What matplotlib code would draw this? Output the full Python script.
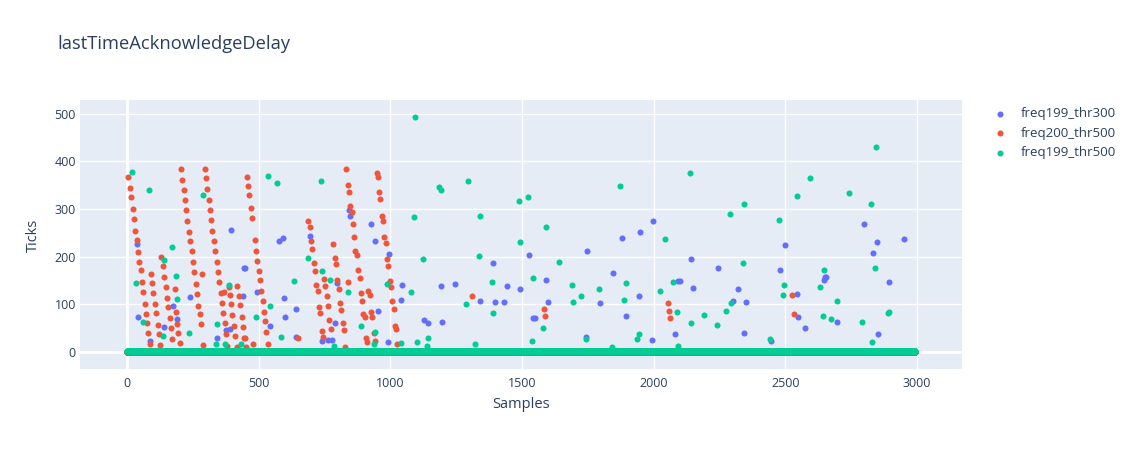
import numpy as np
import matplotlib
matplotlib.use("Agg")
import matplotlib.pyplot as plt

N_SAMPLES = 2995
series_names = ["freq199_thr300", "freq200_thr500", "freq199_thr500"]
colors = ["#636efa", "#EF553B", "#00cc96"]
baseline_levels = [0, 1, 2]

# Spikes above the baseline (sample index, ticks)
blue_x = [39, 396, 444, 239, 176, 442, 44, 191, 142, 89, 342, 376, 391,
          448, 576, 591, 495, 596, 543, 599, 641, 644, 695, 844, 847, 927, 942, 996, 796, 953, 790, 742, 765, 780, 990,
          1044, 1041, 1128, 1143, 1191, 1246, 1196, 1391, 1342, 1396, 1431, 1445, 1494, 1528, 1543,
          1997, 1948, 1880, 1748, 1846, 1591, 2094, 1598, 1798, 1943, 1894, 1550, 1743, 1993, 2080,
          2500, 2143, 2246, 2480, 2100, 2148, 2319, 2300, 2350, 2545, 2651, 2646, 2550, 2575, 2343, 2447,
          2798, 2847, 2950, 2832, 2895, 2695, 2851, 2655]
blue_y = [226, 257, 176, 116, 97, 118, 74, 69, 52, 23, 29, 46, 49,
          176, 232, 240, 125, 114, 55, 74, 90, 31, 244, 298, 286, 268, 232, 206, 145, 86, 61, 23, 26, 26, 22,
          141, 110, 67, 60, 139, 143, 63, 186, 106, 104, 104, 139, 133, 204, 72,
          275, 251, 240, 211, 165, 152, 150, 104, 102, 117, 76, 72, 31, 25, 38,
          225, 196, 176, 173, 150, 135, 132, 108, 104, 121, 158, 151, 74, 50, 39, 24,
          269, 231, 237, 207, 146, 62, 37, 158]

red_x = [5, 11, 16, 22, 27, 32, 37, 42, 47, 52, 57, 62, 67, 72, 77, 82, 87,
         91, 96, 101, 106, 111, 117, 122, 127,
         130, 137, 142, 147, 152, 157, 162, 167, 172,
         181, 186, 191, 196, 201,
         205, 210, 215, 220, 225, 230, 236, 241, 246, 251, 256, 261, 266, 271, 276, 281, 285, 290,
         295, 300, 305, 310, 315, 320, 325, 330, 335, 341, 346, 351, 356, 361, 366, 371, 376, 381,
         368, 386, 391, 396, 401, 406, 411, 417,
         420, 425, 430, 436, 441, 446, 451,
         455, 460, 465, 470, 475, 480, 485, 490, 495, 500, 505, 510, 515, 520, 525, 530, 536, 448,
         649,
         689, 694, 699, 704, 709, 714, 719, 724, 729, 734, 739, 744,
         748, 753, 758, 763, 769, 774,
         784, 789, 794, 799, 804, 809, 814, 819, 824, 828,
         833, 838, 843, 848, 853, 858, 863, 868, 874, 879, 884, 888, 893, 898, 903, 908, 913, 839,
         917, 922, 927, 932, 937, 942,
         948, 953, 958, 963, 967, 972, 977, 982, 987, 993, 998, 1003, 1008, 1013, 1017, 1022, 1027,
         1309, 1585, 1588, 2056, 2058, 2062, 2525, 2533]
red_y = [368, 344, 325, 300, 280, 254, 235, 210, 189, 172, 146, 125, 100, 80, 60, 40, 16,
         163, 144, 123, 101, 81, 56, 37, 14,
         200, 180, 158, 137, 114, 94, 71, 50, 27,
         132, 83, 59, 39, 18,
         384, 361, 340, 319, 298, 274, 252, 233, 211, 188, 167, 143, 121, 97, 79, 58, 163, 15,
         384, 365, 342, 319, 298, 277, 254, 233, 211, 189, 167, 146, 123, 102, 81, 60, 37, 13,
         125, 137, 120, 100, 77, 55, 33, 11,
         139, 118, 98, 74, 53, 30, 11,
         368, 349, 329, 303, 282, 16, 235, 213, 192, 171, 151, 127, 106, 83, 65, 41, 16, 30,
         30,
         275, 263, 233, 216, 186, 170, 140, 128, 95, 81, 45, 31,
         153, 139, 118, 96, 67, 48,
         226, 197, 185, 152, 133, 103, 88, 61, 46, 11,
         384, 350, 336, 306, 293, 268, 242, 213, 204, 172, 156, 123, 107, 80, 74, 30, 22, 147,
         129, 120, 85, 74, 39, 24,
         376, 367, 335, 321, 285, 275, 241, 228, 195, 181, 150, 137, 106, 91, 54, 49, 16,
         117, 90, 76, 102, 86, 72, 119, 79]

green_x = [20, 84, 289, 171, 142, 186, 36, 386, 191, 60, 234, 138, 342, 337, 371, 434,
           537, 571, 737, 689, 742, 771, 636, 841, 542, 489, 586, 889, 942, 938, 785, 989,
           1094, 1186, 1191, 1294, 1089, 1342, 1488, 1523, 1494, 1123, 1338, 1386, 1543, 1080, 1289, 1391,
           1103, 1143, 1041, 1138, 1323, 1538,
           1874, 1591, 2042, 1640, 1689, 1894, 2074, 1723, 1791, 2023, 1694, 1889, 2089, 1579, 1943, 1938,
           1742, 1841, 2094,
           2138, 2593, 2543, 2343, 2290, 2475, 2338, 2646, 2495, 2630, 2490, 2294, 2275, 2190, 2143, 2241,
           2642, 2441,
           2846, 2743, 2827, 2842, 2695, 2675, 2793, 2890, 2895, 2830]
green_y = [377, 340, 329, 221, 193, 160, 144, 141, 111, 63, 40, 34, 58, 16, 16, 17,
           370, 354, 358, 198, 170, 151, 148, 125, 96, 73, 31, 54, 41, 16, 13, 142,
           494, 346, 341, 360, 283, 286, 316, 325, 231, 195, 202, 146, 156, 125, 101, 81,
           21, 29, 19, 12, 16, 23,
           348, 263, 237, 188, 140, 144, 146, 118, 133, 128, 104, 110, 83, 50, 37, 28,
           28, 11, 13,
           376, 365, 327, 311, 290, 277, 186, 172, 140, 136, 120, 102, 87, 78, 61, 56,
           76, 27,
           431, 333, 310, 177, 106, 69, 62, 81, 84, 20]

spikes = [(blue_x, blue_y), (red_x, red_y), (green_x, green_y)]

TXT = "#2a3f5f"
plt.rcParams['font.family'] = ['Open Sans', 'DejaVu Sans']

fig = plt.figure(figsize=(11.32, 4.5), dpi=100)
ax = fig.add_axes([80 / 1132, 1 - 369 / 450, (962 - 80) / 1132, (369 - 100) / 450])
ax.set_facecolor("#E5ECF6")

samples = np.arange(N_SAMPLES)
for name, col, base, (sx, sy) in zip(series_names, colors, baseline_levels, spikes):
    y = np.full(N_SAMPLES, float(base))
    y[np.array(sx)] = np.array(sy, dtype=float)
    ax.scatter(samples, y, s=19, color=col, linewidths=0, label=name, zorder=3)

ax.set_xlim(-178, 3171)
ax.set_ylim(-35.7, 529)
ax.set_xticks(np.arange(0, 3001, 500))
ax.set_yticks(np.arange(0, 501, 100))
ax.grid(True, color="white", linewidth=1, zorder=0)
ax.set_axisbelow(True)
ax.axhline(0, color="white", linewidth=2, zorder=1)
ax.axvline(0, color="white", linewidth=2, zorder=1)
for s in ax.spines.values():
    s.set_visible(False)
ax.tick_params(length=0, labelsize=9, labelcolor=TXT)
ax.tick_params(axis='x', pad=6)
ax.tick_params(axis='y', pad=3)

fig.text(57 / 1132, 1 - 44 / 450, "lastTimeAcknowledgeDelay", fontsize=13.2, color=TXT, va="center", ha="left")
fig.text(521 / 1132, 1 - 405 / 450, "Samples", fontsize=10.5, color=TXT, va="center", ha="center")
fig.text(33 / 1132, 1 - 235 / 450, "Ticks", fontsize=10.5, color=TXT, va="center", ha="center", rotation=90)

leg = ax.legend(loc="upper left", bbox_to_anchor=(993 / 1132, 1 - 107 / 450), bbox_transform=fig.transFigure,
                frameon=False, fontsize=9.5, handletextpad=1.1, labelspacing=0.5, markerscale=1.0,
                handlelength=1.0, borderaxespad=0, borderpad=0)
for t in leg.get_texts():
    t.set_color(TXT)

fig.savefig("out.png", dpi=100)
